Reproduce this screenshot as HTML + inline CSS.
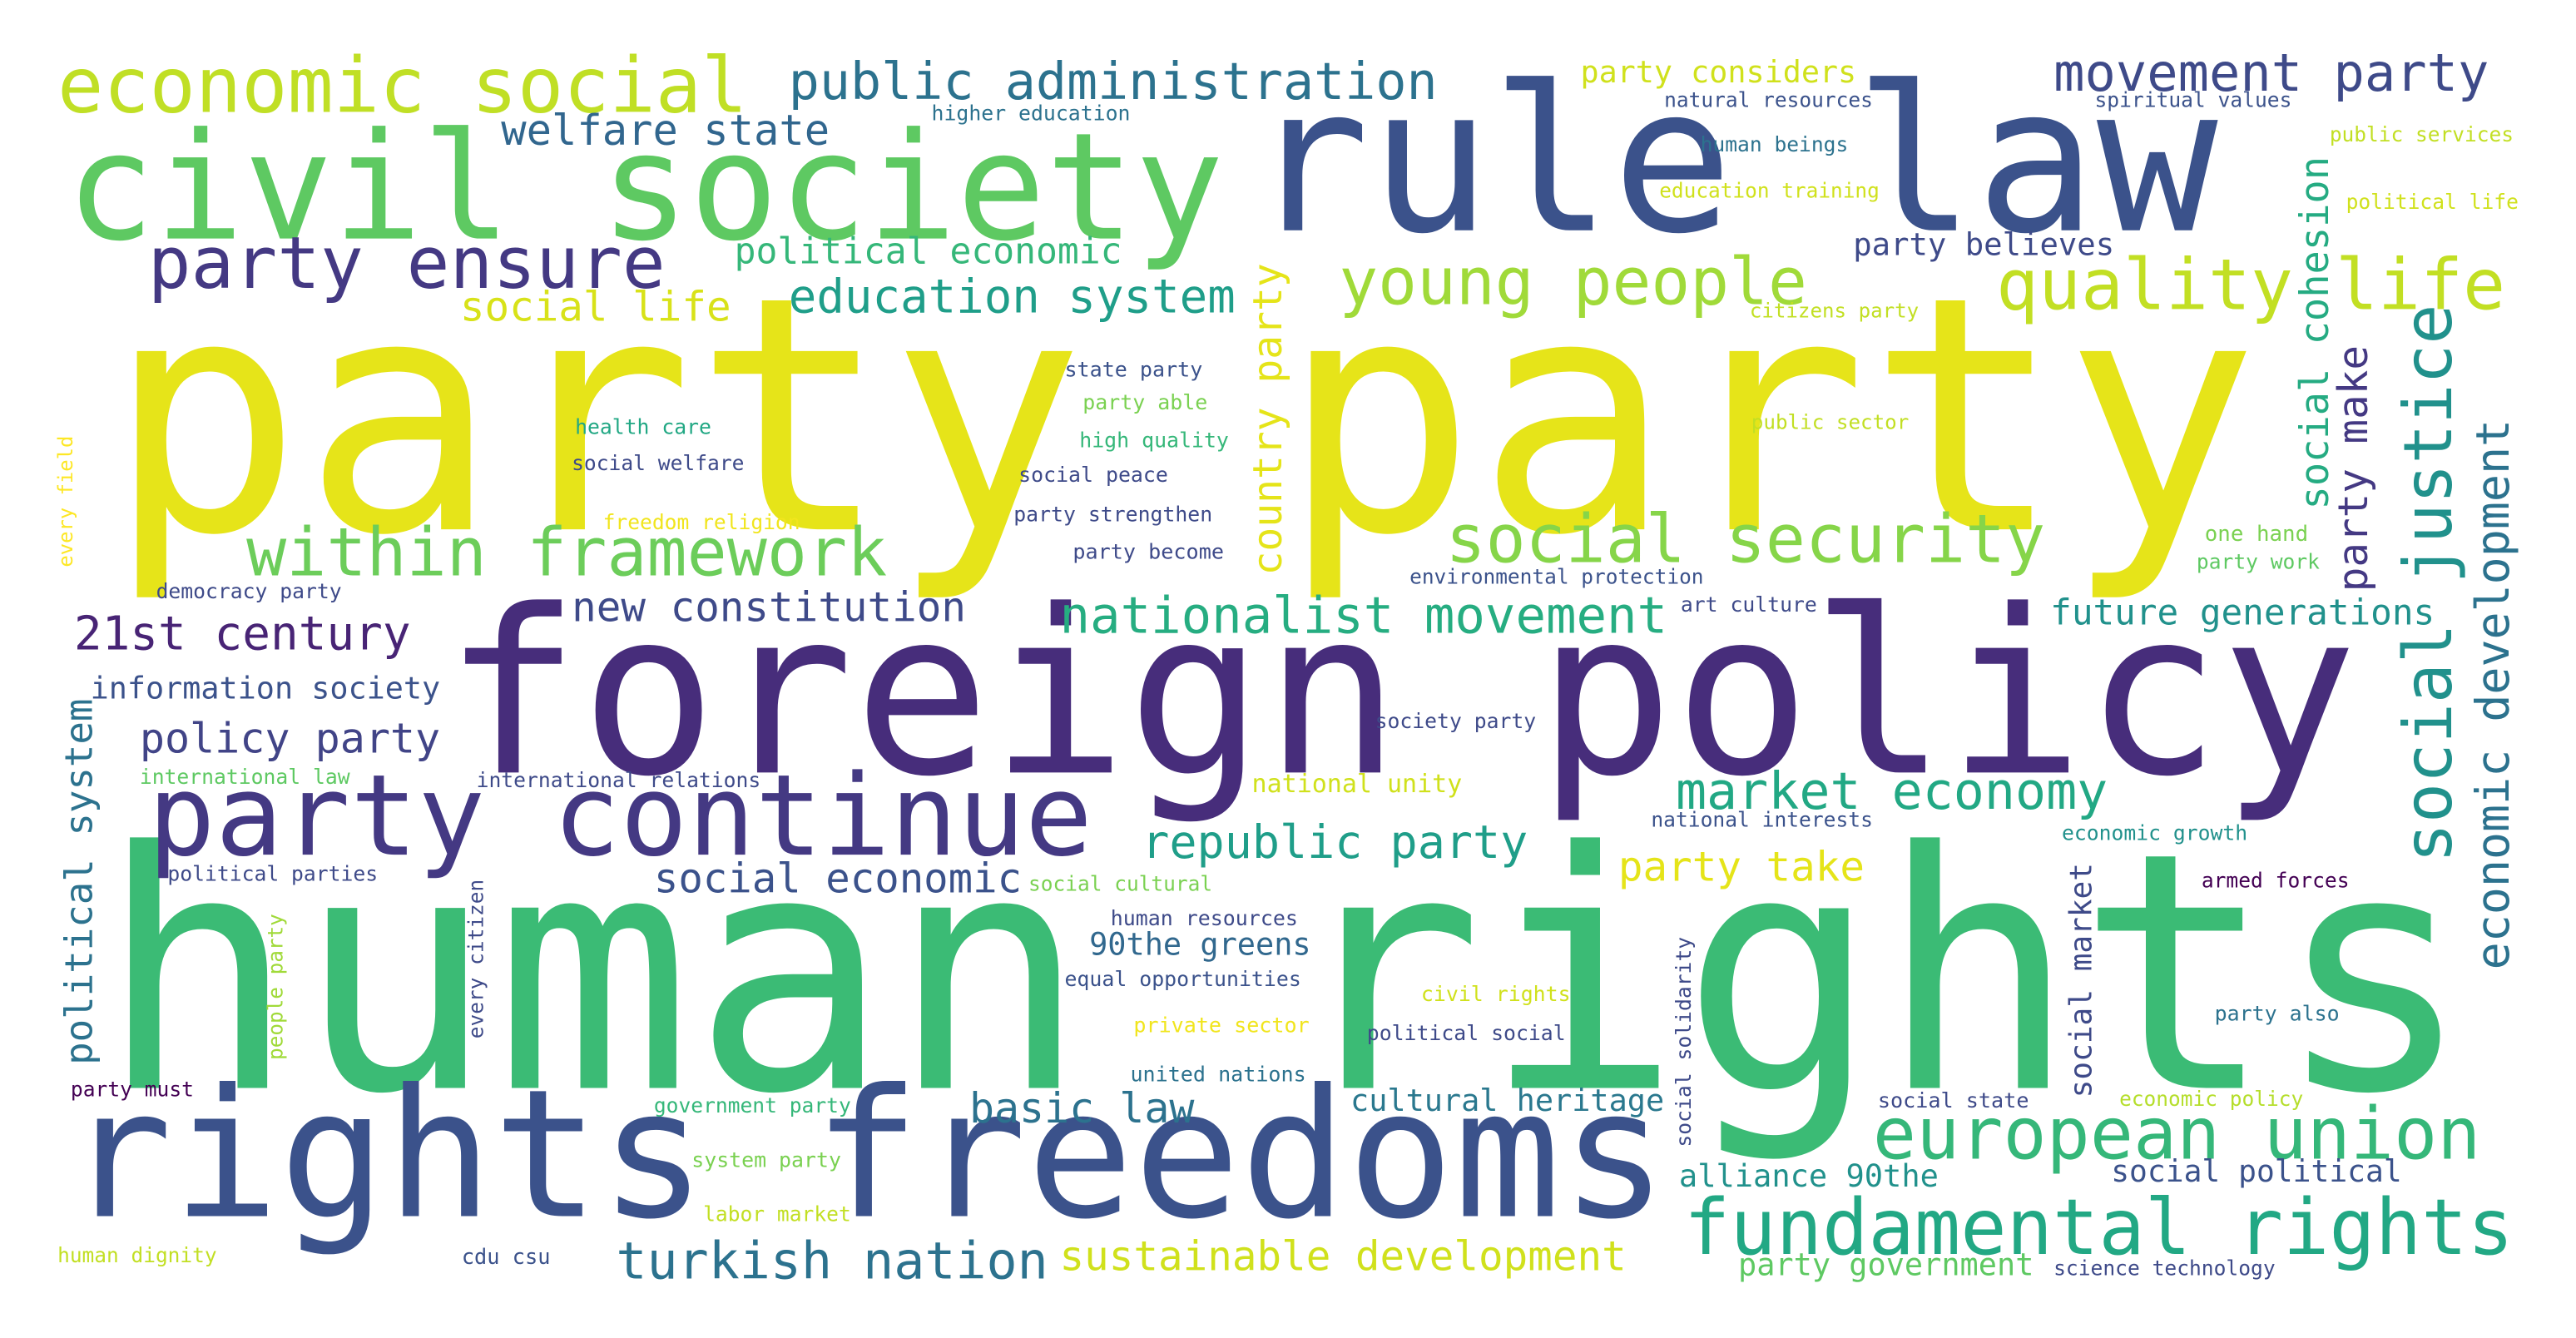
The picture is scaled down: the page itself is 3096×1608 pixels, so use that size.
<!DOCTYPE html>
<html><head><meta charset="utf-8"><style>
html,body{margin:0;padding:0;background:#fff;}
svg{display:block;}
text{font-family:"DejaVu Sans Mono","Liberation Mono",monospace;}
</style></head><body>
<svg id="cloud" width="3096" height="1608" viewBox="0 0 1568 814" xmlns="http://www.w3.org/2000/svg">
<rect width="1568" height="814" fill="#fff"/>
</svg>
<script>
// word, x(left or baseline-x for vertical), y(baseline or bottom for vertical), width, color, vertical
const words = [
["party party",65,322,1310,"#e6e419",0],
["human rights",60,662,1445,"#3bbb75",0],
["foreign policy",270,470,1165,"#472d7b",0],
["rule law",760,140,590,"#3b528b",0],
["civil society",40,145,705,"#5ec962",0],
["rights freedoms",40,740,975,"#3b528b",0],
["party continue",90,520,575,"#443983",0],
["economic social",35,68,420,"#c0df25",0],
["public administration",480,60,395,"#2c728e",0],
["movement party",1250,55,265,"#3e4a89",0],
["party ensure",90,175,315,"#443983",0],
["welfare state",305,88,200,"#31668e",0],
["political economic",447,160,236,"#35b779",0],
["young people",815,185,285,"#a0da39",0],
["quality life",1215,188,310,"#c2df23",0],
["education system",480,190,272,"#1f9e89",0],
["social life",280,195,165,"#d8e219",0],
["within framework",150,350,390,"#6ccd5a",0],
["social security",880,342,365,"#86d549",0],
["nationalist movement",645,385,370,"#26ad81",0],
["new constitution",348,378,240,"#3e4a89",0],
["21st century",45,395,205,"#482475",0],
["information society",55,425,213,"#3b528b",0],
["policy party",85,458,183,"#414487",0],
["international law",85,477,128,"#5ec962",0],
["international relations",290,479,173,"#3e4a89",0],
["national unity",762,482,128,"#d0e11c",0],
["market economy",1020,492,263,"#22a884",0],
["republic party",695,522,235,"#1f9e89",0],
["social economic",398,543,224,"#3b528b",0],
["party take",985,536,150,"#e5e419",0],
["social cultural",626,542,112,"#7ad151",0],
["political parties",102,536,128,"#3e4a89",0],
["human resources",676,563,114,"#3e4a89",0],
["90the greens",663,581,135,"#31688e",0],
["equal opportunities",648,600,144,"#3b528b",0],
["private sector",690,628,107,"#f1e51d",0],
["political social",832,633,121,"#3e4a89",0],
["civil rights",865,609,91,"#d0e11c",0],
["united nations",688,658,107,"#2c728e",0],
["basic law",590,683,137,"#2c728e",0],
["cultural heritage",822,676,191,"#2a788e",0],
["european union",1140,705,370,"#35b779",0],
["fundamental rights",1025,763,505,"#22a884",0],
["alliance 90the",1022,722,158,"#21918c",0],
["social political",1285,719,177,"#3b528b",0],
["social state",1143,674,92,"#3e4a89",0],
["economic policy",1290,673,112,"#b5de2b",0],
["party also",1348,621,76,"#2c728e",0],
["armed forces",1340,540,90,"#440154",0],
["economic growth",1255,511,113,"#21918c",0],
["national interests",1005,503,135,"#3b528b",0],
["turkish nation",375,778,263,"#2c728e",0],
["sustainable development",645,773,345,"#d0e11c",0],
["party government",1058,776,180,"#5ec962",0],
["science technology",1250,776,135,"#3e4a89",0],
["human dignity",35,768,97,"#c2df23",0],
["cdu csu",281,769,54,"#3b528b",0],
["labor market",428,743,90,"#c2df23",0],
["system party",421,710,91,"#7ad151",0],
["government party",398,677,120,"#35b779",0],
["party must",43,667,75,"#440154",0],
["democracy party",95,364,113,"#3e4a89",0],
["freedom religion",367,322,120,"#f1e51d",0],
["health care",350,264,83,"#22a884",0],
["social welfare",348,286,105,"#3e4a89",0],
["state party",648,229,84,"#3b528b",0],
["party able",659,249,76,"#7ad151",0],
["high quality",657,272,91,"#35b779",0],
["social peace",620,293,91,"#3e4a89",0],
["party strengthen",617,317,121,"#3e4a89",0],
["party become",653,340,92,"#3e4a89",0],
["environmental protection",858,355,179,"#3b528b",0],
["art culture",1023,372,83,"#3e4a89",0],
["future generations",1248,380,234,"#21918c",0],
["society party",837,443,98,"#3e4a89",0],
["one hand",1342,329,63,"#7ad151",0],
["party work",1337,346,75,"#5ec962",0],
["public sector",1066,261,96,"#c2df23",0],
["citizens party",1065,193,103,"#c2df23",0],
["party believes",1128,155,159,"#3e4a89",0],
["education training",1010,120,134,"#d0e11c",0],
["human beings",1035,92,90,"#2c728e",0],
["natural resources",1013,65,127,"#3b528b",0],
["party considers",962,50,168,"#d0e11c",0],
["higher education",567,73,121,"#2c728e",0],
["spiritual values",1275,65,120,"#3b528b",0],
["public services",1418,86,112,"#c2df23",0],
["political life",1428,127,105,"#d0e11c",0],
["social solidarity",1029,698,128,"#3e4a89",1],
["every citizen",294,632,97,"#3e4a89",1],
["people party",172,645,89,"#a0da39",1],
["political system",56,648,223,"#2c728e",1],
["every field",44,345,80,"#fde725",1],
["social market",1273,668,143,"#3e4a89",1],
["economic development",1527,590,335,"#2c728e",1],
["social justice",1492,525,340,"#21918c",1],
["party make",1441,360,150,"#443983",1],
["social cohesion",1417,310,215,"#25ab82",1],
["country party",780,350,190,"#e5e419",1]
];
const svg=document.getElementById('cloud');
const NS='http://www.w3.org/2000/svg';
words.forEach(w=>{
  const [t,x,y,wd,c,v]=w;
  const fs=wd/(t.length*0.6);
  const el=document.createElementNS(NS,'text');
  el.textContent=t;
  el.setAttribute('font-size',fs.toFixed(1));
  el.setAttribute('fill',c);
  el.setAttribute('textLength',wd);
  el.setAttribute('lengthAdjust','spacingAndGlyphs');
  if(v){el.setAttribute('transform','translate('+x+','+y+') rotate(-90)');el.setAttribute('x',0);el.setAttribute('y',0);}
  else{el.setAttribute('x',x);el.setAttribute('y',y);}
  
  
  svg.appendChild(el);
});
</script>
</body></html>
